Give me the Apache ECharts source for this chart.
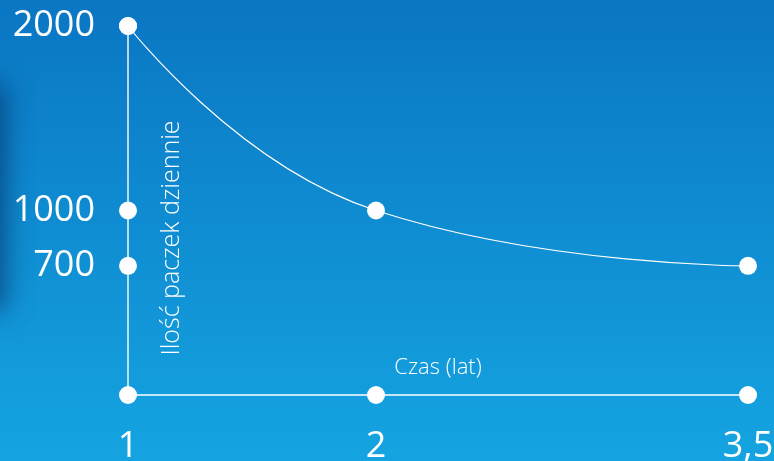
<!DOCTYPE html>
<html>
<head>
<meta charset="utf-8">
<script src="https://cdn.jsdelivr.net/npm/echarts@6/dist/echarts.min.js"></script>
<style>
html,body{margin:0;padding:0;width:774px;height:461px;overflow:hidden;}
#chart{width:774px;height:461px;}
</style>
</head>
<body>
<div id="chart"></div>
<script>
// Data
var years = [1, 2, 3.5];
var parcelsPerDay = [2000, 1000, 700];
var xTickValues = [1, 2, 3.5];
var xTickLabels = ['1', '2', '3,5'];
var yTickValues = [700, 1000, 2000];
var yTickLabels = ['700', '1000', '2000'];
var xAxisName = 'Czas (lat)';
var yAxisName = 'Ilość paczek dziennie';

var curveData = years.map(function (x, i) { return [x, parcelsPerDay[i]]; });
var xDots = xTickValues.map(function (x) { return [x, 0]; });
var yDots = yTickValues.map(function (y) { return [xTickValues[0], y]; });

var chart = echarts.init(document.getElementById('chart'));
var font = '"Open Sans", "Noto Sans", sans-serif';
chart.setOption({
  backgroundColor: {
    type: 'linear', x: 0, y: 0, x2: 0, y2: 1,
    colorStops: [{ offset: 0, color: '#0a76c3' }, { offset: 1, color: '#15a4e1' }]
  },
  animation: false,
  grid: { left: 128, right: 26, top: 26, bottom: 66, containLabel: false, outerBoundsMode: 'none' },
  graphic: [
    {
      type: 'rect', left: -40, top: 85, shape: { width: 40, height: 225 },
      style: { fill: 'rgba(6,45,95,0.9)', shadowBlur: 28, shadowOffsetX: 4, shadowColor: 'rgba(6,45,95,0.8)' },
      z: 0
    },
    {
      type: 'text', x: 172, y: 238, rotation: Math.PI / 2,
      style: {
        text: yAxisName, fill: '#ffffff', font: '300 25px ' + font,
        textAlign: 'center', textVerticalAlign: 'middle'
      }
    }
  ],
  xAxis: {
    type: 'value', min: 1, max: 3.5,
    name: xAxisName, nameLocation: 'middle', nameGap: -38,
    nameTextStyle: { color: '#ffffff', fontSize: 22, fontFamily: font, fontWeight: 300 },
    axisLine: { show: true, onZero: false, lineStyle: { color: '#ffffff', width: 1.5 } },
    axisTick: { show: false },
    splitLine: { show: false },
    axisLabel: {
      customValues: xTickValues,
      color: '#ffffff', fontSize: 36, fontFamily: font, margin: 34,
      formatter: function (v) { var i = xTickValues.indexOf(v); return i >= 0 ? xTickLabels[i] : ''; }
    }
  },
  yAxis: {
    type: 'value', min: 0, max: 2000,
    axisLine: { show: true, lineStyle: { color: 'rgba(255,255,255,0.7)', width: 2 } },
    axisTick: { show: false },
    splitLine: { show: false },
    axisLabel: {
      customValues: yTickValues,
      color: '#ffffff', fontSize: 36, fontFamily: font, margin: 33,
      formatter: function (v) { var i = yTickValues.indexOf(v); return i >= 0 ? yTickLabels[i] : ''; }
    }
  },
  series: [
    {
      type: 'line', data: curveData, smooth: 0.5,
      lineStyle: { color: '#ffffff', width: 1.2 },
      symbol: 'circle', symbolSize: 18, itemStyle: { color: '#ffffff', opacity: 1 }, z: 5
    },
    {
      type: 'scatter', data: xDots.concat(yDots), symbol: 'circle', symbolSize: 18,
      itemStyle: { color: '#ffffff', opacity: 1 }, z: 5
    }
  ]
});
</script>
</body>
</html>
